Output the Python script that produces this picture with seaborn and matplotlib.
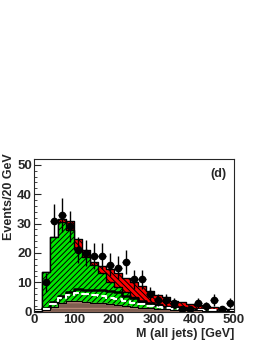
import numpy as np
import pandas as pd
import matplotlib
matplotlib.use("Agg")
import matplotlib.pyplot as plt
import seaborn as sns
from matplotlib.ticker import MultipleLocator

sns.set_style("ticks")
plt.rcParams['font.family'] = ['Liberation Sans', 'DejaVu Sans']
plt.rcParams['font.weight'] = 'bold'
plt.rcParams['hatch.linewidth'] = 0.7
plt.rcParams['hatch.color'] = 'black'

# bins: 20 GeV wide, 0 - 500 GeV
edges = list(range(0, 520, 20))
centers = [e + 10 for e in edges[:-1]]

# stacked prediction (tops of each layer)
red_top = [0.5, 13.4, 25.3, 31.7, 31.0, 24.8, 21.0, 16.9, 15.5, 14.5, 13.0, 11.3, 10.2,
           8.7, 7.1, 5.6, 4.9, 3.7, 3.3, 2.7, 2.3, 2.0, 1.5, 1.2, 1.0]
green_top = [0.5, 13.4, 25.3, 30.4, 27.8, 21.5, 18.5, 15.9, 13.0, 10.2, 8.5, 6.8, 5.1,
             3.4, 3.0, 2.6, 2.0, 1.7, 1.5, 1.2, 1.0, 0.8, 0.7, 0.6, 0.5]
black_line = [0.5, 1.2, 3.4, 5.4, 6.8, 7.6, 7.4, 7.4, 7.4, 7.1, 6.8, 5.3, 4.5,
              3.7, 3.1, 2.3, 1.7, 1.5, 1.2, 1.0, 0.9, 0.8, 0.7, 0.6, 0.4]
white_dash = [0.3, 0.8, 2.5, 4.5, 5.6, 6.2, 5.9, 5.6, 5.2, 4.8, 4.3, 3.6, 3.0,
              2.5, 2.0, 1.5, 1.2, 1.0, 0.8, 0.7, 0.6, 0.5, 0.4, 0.35, 0.3]
brown = [0.2, 0.5, 1.5, 3.0, 3.8, 3.6, 3.2, 3.0, 2.8, 2.6, 2.3, 2.0, 1.7,
         1.4, 1.2, 1.0, 0.8, 0.7, 0.6, 0.5, 0.4, 0.35, 0.3, 0.25, 0.2]

# data points
data_x = [30, 50, 70, 90, 110, 130, 150, 170, 190, 210, 230, 250, 270, 290, 310, 330,
          350, 370, 390, 410, 430, 450, 470, 490]
data_y = [10, 31, 33, 29, 21, 20, 19, 19, 16, 15, 17, 11, 11, 6, 4, 4,
          3, 1, 1, 3, 2, 4, 1, 3]

df = pd.DataFrame({'x': centers, 'red': red_top, 'green': green_top,
                   'black': black_line, 'white': white_dash, 'brown': brown})

fig = plt.figure(figsize=(2.66, 3.44), dpi=100)
ax = fig.add_axes([0.128, 0.094, 0.752, 0.444])


def layer(col, fc, hatch, ec='black'):
    n = len(ax.collections)
    sns.histplot(data=df, x='x', weights=col, bins=edges, element='step', fill=True,
                 color=fc, alpha=1, edgecolor=ec, linewidth=1.0, ax=ax)
    for c in ax.collections[n:]:
        c.set_hatch(hatch)


layer('red', '#ff0000', '\\' * 6)
layer('green', '#00e600', '/' * 6)
sns.histplot(data=df, x='x', weights='black', bins=edges, element='step', fill=False,
             color='black', linewidth=1.8, ax=ax)
sns.histplot(data=df, x='x', weights='white', bins=edges, element='step', fill=False,
             color='white', linewidth=1.5, linestyle='--', ax=ax)
layer('brown', '#7f5e50', '---', ec='#c09080')
sns.histplot(data=df, x='x', weights='brown', bins=edges, element='step', fill=False,
             color='black', linewidth=0.8, ax=ax)

yerr = np.sqrt(np.array(data_y))
ax.errorbar(data_x, data_y, yerr=yerr, xerr=10, fmt='o', color='black',
            markersize=4.5, elinewidth=1.0, capsize=0)

ax.set_xlim(0, 500)
ax.set_ylim(0, 52)
ax.xaxis.set_major_locator(MultipleLocator(100))
ax.xaxis.set_minor_locator(MultipleLocator(20))
ax.yaxis.set_major_locator(MultipleLocator(10))
ax.yaxis.set_minor_locator(MultipleLocator(2))
ax.tick_params(which='both', direction='in', labelsize=9.5, pad=1.5)
ax.tick_params(which='major', length=5)
ax.tick_params(which='minor', length=2.5)
for s in ax.spines.values():
    s.set_linewidth(0.8)

ax.set_xlabel('M (all jets) [GeV]', fontsize=9, fontweight='bold', ha='right')
ax.xaxis.set_label_coords(1.0, -0.11)
ax.set_ylabel('')
fig.text(9 / 266, 1 - 153 / 344, 'Events/20 GeV', rotation=90, ha='center', va='top',
         fontsize=9, fontweight='bold')
ax.text(0.96, 0.94, '(d)', transform=ax.transAxes, ha='right', va='top',
        fontsize=9, fontweight='bold')

fig.savefig('out.png', dpi=100)
